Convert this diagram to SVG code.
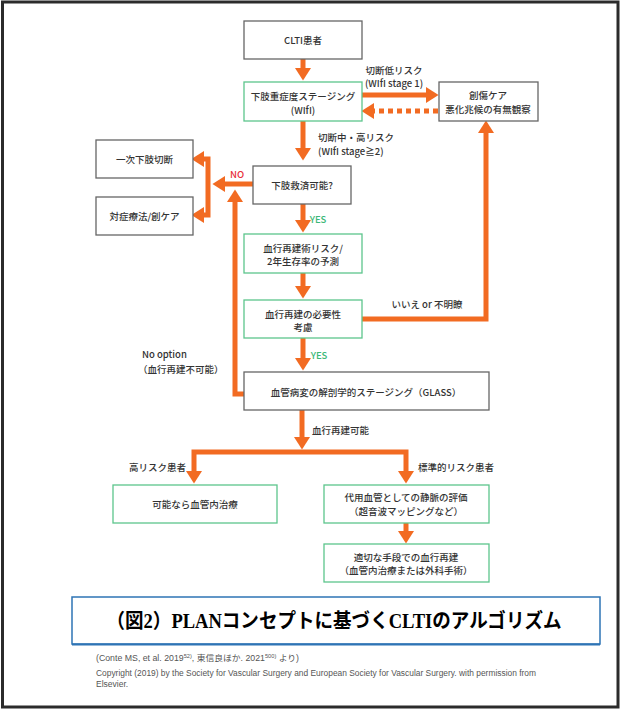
<svg xmlns="http://www.w3.org/2000/svg" width="623" height="710" viewBox="0 0 623 710">
<defs>
<marker id="ah" markerUnits="userSpaceOnUse" markerWidth="14" markerHeight="16" refX="0" refY="7" orient="auto-start-reverse" viewBox="0 0 11 14">
<path d="M0,0 L11,7 L0,14 z" fill="#F26B22"/>
</marker>
</defs>
<style>
.bx{fill:#fff;stroke:#666;stroke-width:1.3}
.gb{fill:#fff;stroke:#5cc58c;stroke-width:1.3}
.t{font-family:"Noto Sans CJK JP","Liberation Sans",sans-serif;font-size:9.5px;font-weight:500;fill:#333;text-anchor:middle;dominant-baseline:central}
.l{font-family:"Noto Sans CJK JP","Liberation Sans",sans-serif;font-size:9.5px;font-weight:500;fill:#333;dominant-baseline:central}
.c{fill:none;stroke:#F26B22;stroke-width:5;stroke-linejoin:miter}
.f{font-family:"Liberation Sans","Noto Sans CJK JP",sans-serif;font-size:8.5px;fill:#555}
</style>
<rect x="2.5" y="2" width="615.5" height="705" fill="#fff" stroke="#2b2b2b" stroke-width="3"/>

<g id="connectors">
<path class="c" d="M303 59 V68" marker-end="url(#ah)"/>
<path class="c" d="M362 95 H426" marker-end="url(#ah)"/>
<path class="c" d="M438 111 H374" stroke-dasharray="5 4" marker-end="url(#ah)"/>
<path class="c" d="M303 121 V148" marker-end="url(#ah)"/>
<path class="c" d="M253 184 H225" marker-end="url(#ah)"/>
<path class="c" d="M208 187 V159 H204" marker-end="url(#ah)"/>
<path class="c" d="M208 187 V215 H204" marker-end="url(#ah)"/>
<path class="c" d="M303 204 V220" marker-end="url(#ah)"/>
<path class="c" d="M303 273 V286" marker-end="url(#ah)"/>
<path class="c" d="M362 319 H486 V133" marker-end="url(#ah)"/>
<path class="c" d="M303 338 V358" marker-end="url(#ah)"/>
<path class="c" d="M244 394 H235 V202" marker-end="url(#ah)"/>
<path class="c" d="M302 410 V437" marker-end="url(#ah)"/>
<path class="c" d="M194 471 V452 H406 V471" marker-start="url(#ah)" marker-end="url(#ah)"/>
<path class="c" d="M406 523 V531" marker-end="url(#ah)"/>
</g>

<g id="edge-labels">
<text class="t" x="394" y="70">切断低リスク</text>
<text class="t" x="394" y="83">(WIfI stage 1)</text>
<text class="l" x="318" y="137">切断中・高リスク</text>
<text class="l" x="318" y="151">(WIfI stage≧2)</text>
<text class="t" x="237" y="174" style="fill:#e8303a">NO</text>
<text class="t" x="318" y="219" style="fill:#3cb878">YES</text>
<text class="t" x="427" y="304">いいえ or 不明瞭</text>
<text class="t" x="319" y="355" style="fill:#3cb878">YES</text>
<text class="l" x="142" y="354">No option</text>
<text class="l" x="138" y="369">（血行再建不可能）</text>
<text class="l" x="312" y="430">血行再建可能</text>
<text class="t" x="186" y="467" style="text-anchor:end">高リスク患者</text>
<text class="l" x="418" y="467">標準的リスク患者</text>
</g>

<g id="n-clti"><rect class="bx" x="244" y="21" width="118" height="38"/><text class="t" x="303" y="40">CLTI患者</text></g>
<g id="n-wifi"><rect class="gb" x="244" y="82" width="118" height="39"/><text class="t" x="303" y="96">下肢重症度ステージング</text><text class="t" x="303" y="110">(WIfI)</text></g>
<g id="n-wound"><rect class="bx" x="439" y="82" width="99" height="39"/><text class="t" x="488" y="95">創傷ケア</text><text class="t" x="488" y="109">悪化兆候の有無観察</text></g>
<g id="n-amp"><rect class="bx" x="96" y="140" width="97" height="38"/><text class="t" x="144.5" y="159">一次下肢切断</text></g>
<g id="n-salv"><rect class="bx" x="253" y="166" width="98" height="38"/><text class="t" x="302" y="185">下肢救済可能?</text></g>
<g id="n-pall"><rect class="bx" x="96" y="197" width="97" height="38"/><text class="t" x="144.5" y="216">対症療法/創ケア</text></g>
<g id="n-risk"><rect class="gb" x="244" y="234" width="118" height="39"/><text class="t" x="303" y="248">血行再建術リスク/</text><text class="t" x="303" y="261">2年生存率の予測</text></g>
<g id="n-need"><rect class="gb" x="244" y="300" width="118" height="38"/><text class="t" x="303" y="314">血行再建の必要性</text><text class="t" x="303" y="327">考慮</text></g>
<g id="n-glass"><rect class="bx" x="244" y="372" width="245" height="38"/><text class="t" x="366" y="392">血管病変の解剖学的ステージング（GLASS）</text></g>
<g id="n-evt"><rect class="gb" x="113" y="485" width="164" height="38"/><text class="t" x="195" y="504">可能なら血管内治療</text></g>
<g id="n-vein"><rect class="gb" x="324" y="485" width="165" height="38"/><text class="t" x="406" y="497">代用血管としての静脈の評価</text><text class="t" x="406" y="511">（超音波マッピングなど）</text></g>
<g id="n-revasc"><rect class="gb" x="324" y="544" width="165" height="38"/><text class="t" x="406" y="557">適切な手段での血行再建</text><text class="t" x="406" y="570">（血管内治療または外科手術）</text></g>

<g id="title">
<rect x="72" y="597" width="528" height="47" fill="#fff" stroke="#2e74b5" stroke-width="1.5"/>
<line x1="72" y1="644.5" x2="600" y2="644.5" stroke="#2e74b5" stroke-width="2"/>
<text x="334" y="628" style="font-family:'Liberation Serif','Noto Sans CJK JP',serif;font-size:20px;font-weight:bold;fill:#000;text-anchor:middle" textLength="455" lengthAdjust="spacingAndGlyphs">（図2）PLANコンセプトに基づくCLTIのアルゴリズム</text>
</g>

<g id="footer">
<text class="f" x="96" y="661" textLength="203" lengthAdjust="spacingAndGlyphs">(Conte MS, et al. 2019<tspan font-size="5.5" dy="-3">52)</tspan><tspan dy="3">, 東信良ほか. 2021</tspan><tspan font-size="5.5" dy="-3">500)</tspan><tspan dy="3"> より)</tspan></text>
<text class="f" x="96" y="676" textLength="440" lengthAdjust="spacingAndGlyphs">Copyright (2019) by the Society for Vascular Surgery and European Society for Vascular Surgery. with permission from</text>
<text class="f" x="96" y="687">Elsevier.</text>
</g>
</svg>
